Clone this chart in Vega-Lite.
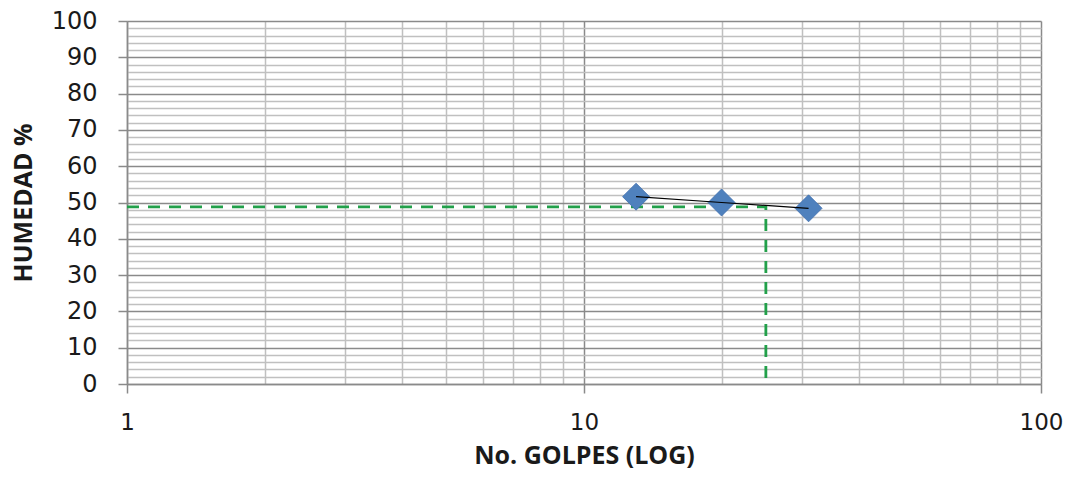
{
  "$schema": "https://vega.github.io/schema/vega-lite/v6.json",
  "width": 914,
  "height": 363,
  "autosize": {"type": "none"},
  "padding": {"left": 127, "top": 21, "right": 37, "bottom": 98},
  "background": "white",
  "config": {
    "view": {"stroke": null},
    "axis": {"labelFont": "DejaVu Sans", "labelColor": "#1a1a1a", "titleFont": "Open Sans", "titleFontWeight": "bold", "titleColor": "#1a1a1a"}
  },
  "datasets": {
    "points": [
      {"golpes": 13, "humedad": 51.6},
      {"golpes": 20, "humedad": 50.0},
      {"golpes": 31, "humedad": 48.4}
    ],
    "guide": [
      {"golpes": 1, "humedad": 48.8, "ord": 1},
      {"golpes": 25, "humedad": 48.8, "ord": 2},
      {"golpes": 25, "humedad": 0, "ord": 3}
    ]
  },
  "encoding": {
    "x": {
      "field": "golpes", "type": "quantitative",
      "scale": {"type": "log", "domain": [1, 100], "nice": false},
      "axis": {
        "title": "No. GOLPES (LOG)",
        "titleFontSize": 25,
        "titlePadding": 9,
        "values": [1,2,3,4,5,6,7,8,9,10,20,30,40,50,60,70,80,90,100],
        "format": "d",
        "labelExpr": "datum.value == 1 || datum.value == 10 || datum.value == 100 ? datum.label : ''",
        "labelFontSize": 23,
        "labelPadding": 18,
        "labelFlush": false,
        "labelOverlap": false,
        "grid": true,
        "gridColor": {"condition": {"test": "datum.value == 1 || datum.value == 10 || datum.value == 100", "value": "#8a8a8a"}, "value": "#c0c0c0"},
        "gridWidth": 1.5,
        "ticks": true,
        "tickSize": 9,
        "tickWidth": 1.5,
        "tickColor": {"condition": {"test": "datum.value == 1 || datum.value == 10 || datum.value == 100", "value": "#8a8a8a"}, "value": "transparent"},
        "domainColor": "#8a8a8a",
        "domainWidth": 1.5
      }
    },
    "y": {
      "field": "humedad", "type": "quantitative",
      "scale": {"domain": [0, 100], "nice": false, "zero": true},
      "axis": {
        "title": "HUMEDAD %",
        "titleFontSize": 25,
        "titlePadding": 15,
        "values": [0,2,4,6,8,10,12,14,16,18,20,22,24,26,28,30,32,34,36,38,40,42,44,46,48,50,52,54,56,58,60,62,64,66,68,70,72,74,76,78,80,82,84,86,88,90,92,94,96,98,100],
        "labelExpr": "datum.value % 10 == 0 ? datum.label : ''",
        "labelFontSize": 24,
        "labelPadding": 21,
        "labelOverlap": false,
        "labelBaseline": "middle",
        "grid": true,
        "gridColor": {"condition": {"test": "datum.value % 10 == 0", "value": "#8a8a8a"}, "value": "#c0c0c0"},
        "gridWidth": 1.5,
        "ticks": true,
        "tickSize": 9,
        "tickWidth": 1.5,
        "tickColor": {"condition": {"test": "datum.value % 10 == 0", "value": "#8a8a8a"}, "value": "transparent"},
        "domainColor": "#8a8a8a",
        "domainWidth": 1.5
      }
    }
  },
  "layer": [
    {
      "data": {"name": "guide"},
      "mark": {"type": "line", "color": "#22a04a", "strokeWidth": 2.8, "strokeDash": [12, 9]},
      "encoding": {"order": {"field": "ord", "type": "quantitative"}}
    },
    {
      "data": {"name": "points"},
      "mark": {"type": "point", "shape": "diamond", "filled": true, "size": 729, "color": "#4f81bd", "stroke": "#3f6fae", "strokeWidth": 0.8, "opacity": 1}
    },
    {
      "data": {"name": "points"},
      "mark": {"type": "line", "color": "#000000", "strokeWidth": 1.2},
      "encoding": {"order": {"field": "golpes", "type": "quantitative"}}
    }
  ]
}
